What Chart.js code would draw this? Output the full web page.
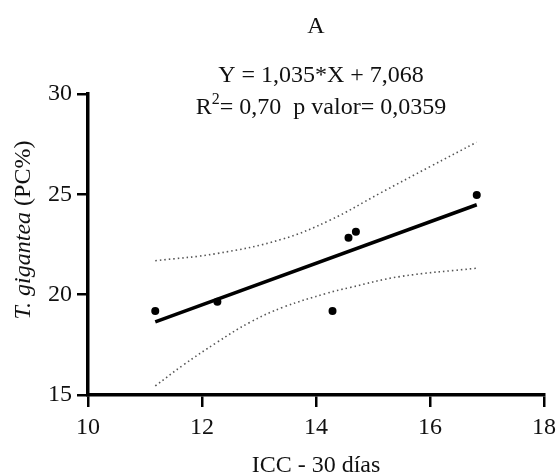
<!DOCTYPE html>
<html>
<head>
<meta charset="utf-8">
<script src="https://cdn.jsdelivr.net/npm/chart.js@4/dist/chart.umd.min.js"></script>
<style>
  html, body { margin: 0; padding: 0; background: #fff; }
  #wrap { width: 558px; height: 475px; position: relative; }
</style>
</head>
<body>
<div id="wrap"><canvas id="c" width="558" height="475"></canvas></div>
<script>
// ---- data ----
const pointX = [11.18, 12.27, 14.29, 14.57, 14.70, 16.82];
const pointY = [19.19, 19.65, 19.19, 22.84, 23.14, 24.97];

const fitX = [11.18, 16.82];
const fitY = [18.64, 24.48];

const upperX = [11.18, 12.26, 13.40, 14.25, 15.12, 16.0, 16.82];
const upperY = [21.69, 22.05, 22.76, 23.72, 25.05, 26.38, 27.6];

const lowerX = [11.18, 11.67, 12.26, 12.84, 13.43, 14.19, 14.60, 15.47, 16.82];
const lowerY = [15.45, 16.49, 17.62, 18.62, 19.38, 20.07, 20.36, 20.9, 21.32];

const xTicks = [10, 12, 14, 16, 18];
const yTicks = [15, 20, 25, 30];

const titleText = "A";
const eqLine1 = "Y = 1,035*X + 7,068";
const eqLine2a = "R";
const eqLine2sup = "2";
const eqLine2b = "= 0,70  p valor= 0,0359";
const xTitle = "ICC - 30 días";
const yTitleItalic = "T. gigantea";
const yTitleNormal = " (PC%)";

const zip = (xs, ys) => xs.map((x, i) => ({ x: x, y: ys[i] }));

const FONT = "'Liberation Serif', 'Times New Roman', serif";
const TXT = "#111";

const textPlugin = {
  id: 'texts',
  afterDraw(chart) {
    const ctx = chart.ctx;
    const ca = chart.chartArea;
    const cx = (ca.left + ca.right) / 2;
    ctx.save();
    ctx.fillStyle = TXT;
    ctx.textBaseline = 'alphabetic';
    ctx.textAlign = 'center';
    ctx.font = "24px " + FONT;
    ctx.fillText(titleText, cx, 33);
    ctx.fillText(eqLine1, cx + 5, 82);

    // second line with superscript
    const bigF = "24px " + FONT, smallF = "16px " + FONT;
    ctx.font = bigF;
    const wa = ctx.measureText(eqLine2a).width;
    const wb = ctx.measureText(eqLine2b).width;
    ctx.font = smallF;
    const ws = ctx.measureText(eqLine2sup).width;
    const total = wa + ws + wb;
    let x0 = cx + 5 - total / 2;
    ctx.textAlign = 'left';
    ctx.font = bigF;
    ctx.fillText(eqLine2a, x0, 114);
    ctx.font = smallF;
    ctx.fillText(eqLine2sup, x0 + wa, 104);
    ctx.font = bigF;
    ctx.fillText(eqLine2b, x0 + wa + ws, 114);

    // x axis title
    ctx.textAlign = 'center';
    ctx.fillText(xTitle, cx, 472);

    // y axis title (rotated, mixed style)
    ctx.translate(24, 230);
    ctx.rotate(-Math.PI / 2);
    ctx.textBaseline = 'middle';
    ctx.font = "italic 24px " + FONT;
    const wi = ctx.measureText(yTitleItalic).width;
    ctx.font = "24px " + FONT;
    const wn = ctx.measureText(yTitleNormal).width;
    const start = -(wi + wn) / 2;
    ctx.textAlign = 'left';
    ctx.font = "italic 24px " + FONT;
    ctx.fillText(yTitleItalic, start, 0);
    ctx.font = "24px " + FONT;
    ctx.fillText(yTitleNormal, start + wi, 0);
    ctx.restore();
  }
};

new Chart(document.getElementById('c'), {
  type: 'scatter',
  data: {
    datasets: [
      {
        label: 'upper',
        data: zip(upperX, upperY),
        showLine: true,
        borderColor: '#555',
        borderWidth: 1.6,
        borderDash: [1.5, 3],
        pointRadius: 0,
        tension: 0.4,
        fill: false
      },
      {
        label: 'lower',
        data: zip(lowerX, lowerY),
        showLine: true,
        borderColor: '#555',
        borderWidth: 1.6,
        borderDash: [1.5, 3],
        pointRadius: 0,
        tension: 0.4,
        fill: false
      },
      {
        label: 'fit',
        data: zip(fitX, fitY),
        showLine: true,
        borderColor: '#000',
        borderWidth: 3.5,
        pointRadius: 0,
        fill: false
      },
      {
        label: 'points',
        data: zip(pointX, pointY),
        showLine: false,
        backgroundColor: '#000',
        borderColor: '#000',
        borderWidth: 0,
        pointRadius: 4
      }
    ]
  },
  options: {
    responsive: false,
    animation: false,
    events: [],
    layout: { padding: { left: 0, top: 94, right: 14, bottom: 0 } },
    plugins: {
      legend: { display: false },
      tooltip: { enabled: false },
      title: { display: false }
    },
    scales: {
      x: {
        type: 'linear',
        min: 10, max: 18,
        afterFit: (s) => { s.height = 80; s.paddingLeft = 0; s.paddingRight = 0; },
        afterBuildTicks: (s) => { s.ticks = xTicks.map(v => ({ value: v })); },
        border: { display: true, color: '#000', width: 3.5 },
        grid: { drawOnChartArea: false, drawTicks: true, tickLength: 12, lineWidth: 2.5, color: '#000' },
        ticks: { color: TXT, padding: 6, font: { family: FONT, size: 24 } }
      },
      y: {
        type: 'linear',
        min: 15, max: 30,
        afterFit: (s) => { s.width = 88; s.paddingTop = 0; s.paddingBottom = 0; },
        afterBuildTicks: (s) => { s.ticks = yTicks.map(v => ({ value: v })); },
        border: { display: true, color: '#000', width: 3.5 },
        grid: { drawOnChartArea: false, drawTicks: true, tickLength: 11, lineWidth: 2.5, color: '#000' },
        ticks: { color: TXT, padding: 5, font: { family: FONT, size: 24 } }
      }
    }
  },
  plugins: [textPlugin]
});
</script>
</body>
</html>
